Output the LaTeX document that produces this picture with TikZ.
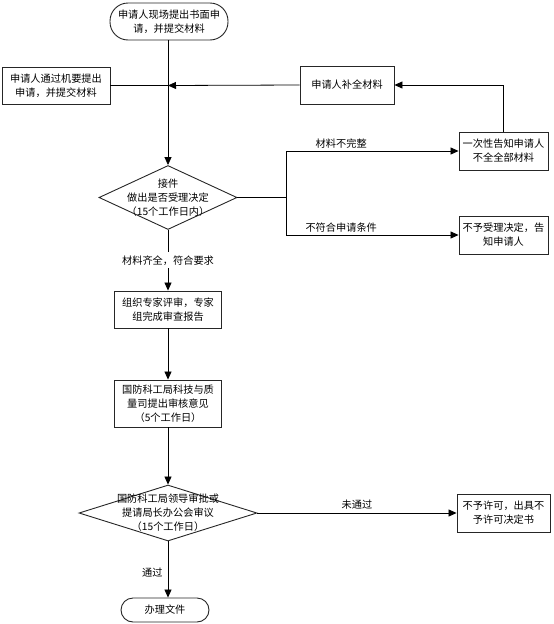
\documentclass[tikz,border=0pt]{standalone}
\usepackage{fontspec}
\newfontfamily\cjk{Noto Sans CJK SC}
\usetikzlibrary{shapes.geometric,arrows.meta}
\begin{document}
\begin{tikzpicture}[x=1pt,y=-1pt,
  font=\cjk\fontsize{10.2}{14}\selectfont,
  box/.style={draw=black!85, line width=0.9pt, align=center, inner sep=1pt},
  term/.style={draw=black!85, line width=0.9pt, align=center, rounded corners=#1, inner sep=1pt},
  dia/.style={diamond, draw=black!85, line width=0.9pt, inner sep=0pt},
  conn/.style={draw=black, line width=0.8pt},
  arr/.style={conn, -{Triangle[length=8pt,width=7pt]}},
  lbl/.style={inner sep=1pt}
]
\useasboundingbox (0,0) rectangle (554,624);
% nodes
\node[term=18pt, minimum width=118, minimum height=37] (start) at (169,21.5) {申请人现场提出书面申\\请，并提交材料};
\node[box, minimum width=108, minimum height=37] (left) at (56,85.5) {申请人通过机要提出\\申请，并提交材料};
\node[box, minimum width=94, minimum height=38] (bq) at (347,85) {申请人补全材料};
\node[box, minimum width=89, minimum height=38] (yc) at (503.5,151) {一次性告知申请人\\不全全部材料};
\node[box, minimum width=89, minimum height=38] (by) at (503.5,235) {不予受理决定，告\\知申请人};
\node[dia, minimum width=138, minimum height=64] (d1) at (168,197.5) {};
\node[align=center, inner sep=0pt] (d1t) at (168,197.5) {接件\\做出是否受理决定\\（15个工作日内）};
\node[box, minimum width=107, minimum height=37] (rev) at (168,309.5) {组织专家评审，专家\\组完成审查报告};
\node[box, minimum width=107, minimum height=47] (kg) at (168,403.5) {国防科工局科技与质\\量司提出审核意见\\（5个工作日）};
\node[dia, minimum width=178, minimum height=56] (d2) at (168,513) {};
\node[align=center, inner sep=0pt] (d2t) at (168,513) {国防科工局领导审批或\\提请局长办公会审议\\（15个工作日）};
\node[box, minimum width=93, minimum height=38] (bx) at (503.5,513) {不予许可，出具不\\予许可决定书};
\node[term=12pt, minimum width=88, minimum height=24] (end) at (165,610) {办理文件};
% helper coordinates
\coordinate (j1) at (168,85.5);
\coordinate (b1) at (286,197.5);
% connectors
\draw[arr] (start.south -| d1.north) -- (d1.north);
\draw[conn] (left.east) -- (j1);
\draw[arr] (bq.west) -- (j1);
\draw[arr] (yc.north) |- (bq.east);
\draw[conn] (d1.east) -- (b1);
\draw[arr] (b1) |- (yc.west) node[lbl, pos=0.66, above=1pt] {材料不完整};
\draw[arr] (b1) |- (by.west) node[lbl, pos=0.66, above=1pt] {不符合申请条件};
\draw[arr] (d1.south) -- (rev.north) node[lbl, pos=0.5, fill=white, inner sep=3pt] {材料齐全，符合要求};
\draw[arr] (rev.south) -- (kg.north);
\draw[arr] (kg.south) -- (d2.north);
\draw[arr] (d2.east) -- (bx.west) node[lbl, midway, above=2pt] {未通过};
\draw[arr] (d2.south) -- (d2.south |- end.north) node[lbl, pos=0.55, left=4pt] {通过};
\end{tikzpicture}
\end{document}
